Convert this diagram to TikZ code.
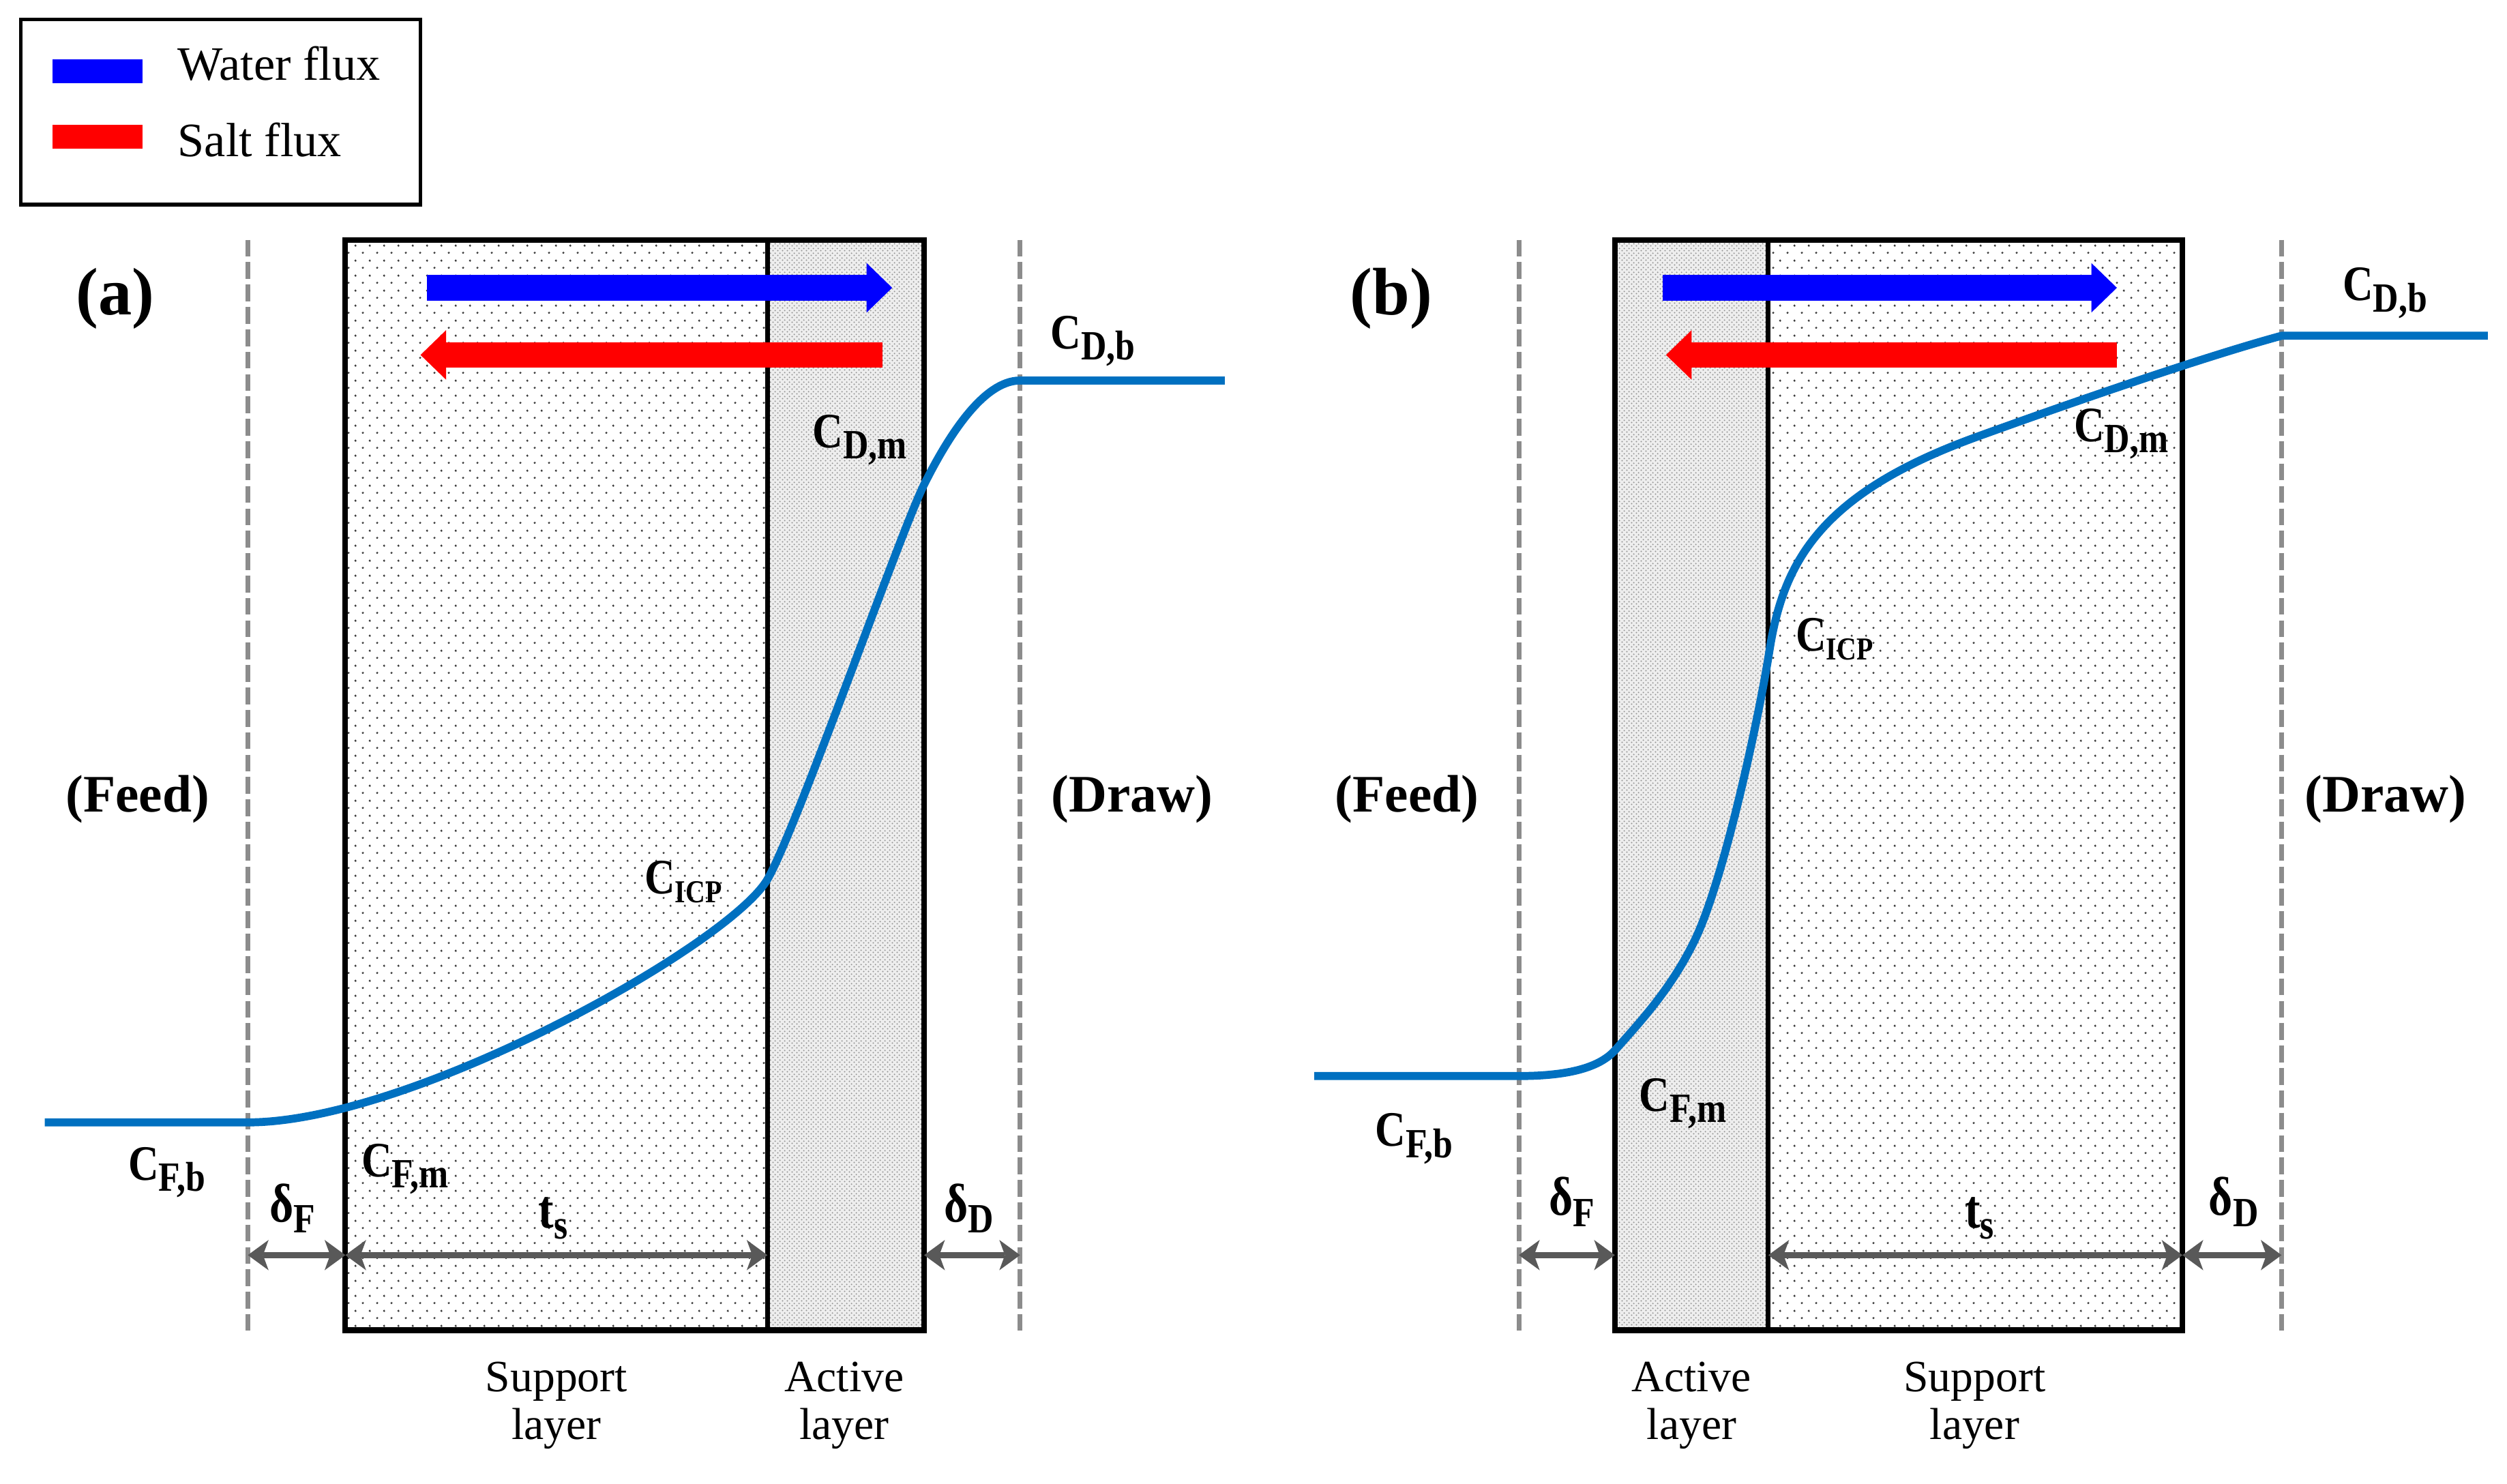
\documentclass[tikz,border=0pt]{standalone}
\usepackage{fontspec}
\setmainfont{Liberation Serif}
\newfontfamily\concfont[FakeStretch=0.85]{Liberation Serif}
\usetikzlibrary{arrows.meta, patterns}

\definecolor{fluxblue}{RGB}{0,0,255}
\definecolor{fluxred}{RGB}{255,0,0}
\definecolor{profileblue}{RGB}{0,112,192}
\definecolor{boundgray}{RGB}{140,140,140}
\definecolor{dimgray}{RGB}{89,89,89}
\definecolor{dotgray}{RGB}{60,60,60}
\definecolor{activegray}{RGB}{238,238,238}
\definecolor{activedot}{RGB}{150,150,150}

\pgfdeclarepatternformonly{supportdots}{\pgfqpoint{0pt}{0pt}}{\pgfqpoint{9pt}{9.2pt}}{\pgfqpoint{9pt}{9.2pt}}{%
  \pgfpathcircle{\pgfqpoint{2.25pt}{2.3pt}}{0.75pt}%
  \pgfpathcircle{\pgfqpoint{6.75pt}{6.9pt}}{0.75pt}%
  \pgfusepath{fill}}
\pgfdeclarepatternformonly{activedots}{\pgfqpoint{0pt}{0pt}}{\pgfqpoint{3pt}{3pt}}{\pgfqpoint{3pt}{3pt}}{%
  \pgfpathcircle{\pgfqpoint{0.75pt}{0.75pt}}{0.55pt}%
  \pgfpathcircle{\pgfqpoint{2.25pt}{2.25pt}}{0.55pt}%
  \pgfusepath{fill}}

\newcommand{\lowsub}[1]{\raisebox{-7pt}{\fontsize{26}{26}\selectfont #1}}
\newcommand{\icpsub}[1]{\raisebox{-5.5pt}{\fontsize{20}{20}\selectfont #1}}

\begin{document}
\begin{tikzpicture}[
		x=1pt, y=-1pt,
		membrane/.style={line width=3.5pt},
		divider/.style={line width=3pt},
		boundary/.style={draw=boundgray, line width=3pt, dash pattern=on 10.5pt off 3.5pt},
		profile/.style={draw=profileblue, line width=5pt, line join=round},
		waterarrow/.style={draw=fluxblue, line width=16pt, -{Triangle[length=16pt,width=31pt,line width=0pt]}},
		saltarrow/.style={draw=fluxred, line width=16pt, -{Triangle[length=16pt,width=31pt,line width=0pt]}},
		dimarrow/.style={draw=dimgray, line width=3.8pt, {Stealth[length=13pt,width=19pt,inset=3.5pt,line width=0pt]}-{Stealth[length=13pt,width=19pt,inset=3.5pt,line width=0pt]}},
		conc/.style={anchor=base west, inner sep=0pt, font=\concfont\bfseries\fontsize{31}{31}\selectfont},
		thick/.style={anchor=base, inner sep=0pt, font=\concfont\bfseries\fontsize{34}{34}\selectfont},
		side/.style={anchor=base, inner sep=0pt, font=\bfseries\fontsize{33}{33}\selectfont},
		panel/.style={anchor=base, inner sep=0pt, font=\bfseries\fontsize{42}{42}\selectfont},
		layer/.style={align=center, inner sep=0pt, font=\fontsize{28}{30}\selectfont},
		legend/.style={anchor=base west, inner sep=0pt, font=\fontsize{30}{30}\selectfont},
		]
	\useasboundingbox (0,0) rectangle (1568,928);

	% legend
	\draw[line width=2.2pt] (13,12) rectangle (263,128);
	\fill[fluxblue] (33,37) rectangle (89,52);
	\fill[fluxred] (33,78) rectangle (89,93);
	\node[legend] (water) at (111,50) {Water flux};
	\node[legend] (salt) at (111,98) {Salt flux};

	% (a)
	\fill[pattern=supportdots, pattern color=dotgray] (216,150) rectangle (480,832);
	\fill[activegray] (480,150) rectangle (578,832);
	\fill[pattern=activedots, pattern color=activedot] (480,150) rectangle (578,832);
	\draw[boundary] (155,150) -- (155,832);
	\draw[boundary] (638,150) -- (638,832);
	\draw[divider] (480,150) -- (480,832);
	\draw[membrane] (216,150) rectangle (578,832);
	\draw[profile] (28,702) -- (155,702)
		.. controls (258,702) and (456,591) .. (480,550)
		.. controls (498,519) and (563,333) .. (578,303)
		.. controls (593,273) and (615,238) .. (638,238) -- (766,238);

	\coordinate (wa1) at (267,180);
	\coordinate (wa2) at (558,180);
	\coordinate (sa1) at (552,222);
	\coordinate (sa2) at (263,222);
	\draw[waterarrow] (wa1) -- (wa2);
	\draw[saltarrow] (sa1) -- (sa2);

	\coordinate (fa) at (155,785);
	\coordinate (la) at (216,785);
	\coordinate (ma) at (480,785);
	\coordinate (ra) at (578,785);
	\coordinate (da) at (638,785);
	\draw[dimarrow] (fa) -- (la);
	\draw[dimarrow] (la) -- (ma);
	\draw[dimarrow] (ra) -- (da);

	\node[panel] (panA) at (72,197) {(a)};
	\node[side] (feedA) at (86,508) {(Feed)};
	\node[side] (drawA) at (708,508) {(Draw)};
	\node[conc] (cfbA) at (80,738) {C\lowsub{F,b}};
	\node[conc] (cfmA) at (226,736) {C\lowsub{F,m}};
	\node[conc] (cicpA) at (403,559) {C\icpsub{ICP}};
	\node[conc] (cdmA) at (508,280) {C\lowsub{D,m}};
	\node[conc] (cdbA) at (657,218) {C\lowsub{D,b}};
	\node[thick] (dfA) at (183,764) {δ\lowsub{F}};
	\node[thick] (tsA) at (346,768) {t\lowsub{s}};
	\node[thick] (ddA) at (606,764) {δ\lowsub{D}};
	\node[layer] (suppA) at (348,879) {Support\\layer};
	\node[layer] (actA) at (528,879) {Active\\layer};

	% (b)
	\fill[activegray] (1010,150) rectangle (1106,832);
	\fill[pattern=activedots, pattern color=activedot] (1010,150) rectangle (1106,832);
	\fill[pattern=supportdots, pattern color=dotgray] (1106,150) rectangle (1365,832);
	\draw[boundary] (950,150) -- (950,832);
	\draw[boundary] (1427,150) -- (1427,832);
	\draw[divider] (1106,150) -- (1106,832);
	\draw[membrane] (1010,150) rectangle (1365,832);
	\draw[profile] (822,673) -- (950,673)
		.. controls (980,673) and (1000,668) .. (1010,657)
		.. controls (1025,640) and (1045,619) .. (1060,588)
		.. controls (1078,551) and (1100,450) .. (1107,405)
		.. controls (1116,350) and (1140,308) .. (1237,273)
		.. controls (1320,243) and (1390,220) .. (1427,210) -- (1556,210);

	\coordinate (wb1) at (1040,180);
	\coordinate (wb2) at (1324,180);
	\coordinate (sb1) at (1324,222);
	\coordinate (sb2) at (1042,222);
	\draw[waterarrow] (wb1) -- (wb2);
	\draw[saltarrow] (sb1) -- (sb2);

	\coordinate (fb) at (950,785);
	\coordinate (lb) at (1010,785);
	\coordinate (mb) at (1106,785);
	\coordinate (rb) at (1365,785);
	\coordinate (db) at (1427,785);
	\draw[dimarrow] (fb) -- (lb);
	\draw[dimarrow] (mb) -- (rb);
	\draw[dimarrow] (rb) -- (db);

	\node[panel] (panB) at (870,197) {(b)};
	\node[side] (feedB) at (880,508) {(Feed)};
	\node[side] (drawB) at (1492,508) {(Draw)};
	\node[conc] (cfbB) at (860,717) {C\lowsub{F,b}};
	\node[conc] (cfmB) at (1025,695) {C\lowsub{F,m}};
	\node[conc] (cicpB) at (1123,407) {C\icpsub{ICP}};
	\node[conc] (cdmB) at (1297,276) {C\lowsub{D,m}};
	\node[conc] (cdbB) at (1465,188) {C\lowsub{D,b}};
	\node[thick] (dfB) at (983,760) {δ\lowsub{F}};
	\node[thick] (tsB) at (1238,768) {t\lowsub{s}};
	\node[thick] (ddB) at (1397,760) {δ\lowsub{D}};
	\node[layer] (actB) at (1058,879) {Active\\layer};
	\node[layer] (suppB) at (1235,879) {Support\\layer};
\end{tikzpicture}
\end{document}
